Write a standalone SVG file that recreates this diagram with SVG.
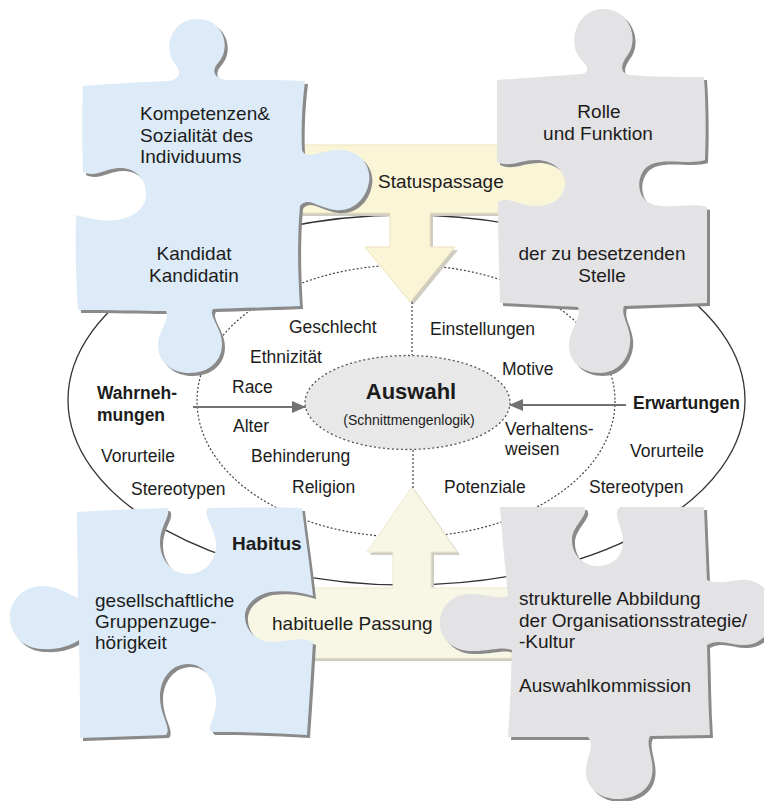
<svg xmlns="http://www.w3.org/2000/svg" xmlns:xlink="http://www.w3.org/1999/xlink" width="764" height="801" viewBox="0 0 764 801">
<style>
text{font-family:"Liberation Sans",Arial,sans-serif;fill:#1c1c1c}
.big{font-size:19px}
.mid{font-size:17.5px}
.b{font-weight:bold}
.blue{fill:#dcebf7}
.gray{fill:#e3e2e4}
.shadow{fill:#8a8a8a}
.yshadow{fill:#cfcdc2}
.line{fill:none;stroke:#333;stroke-width:1.3}
.dot{fill:none;stroke:#444;stroke-width:1.2;stroke-dasharray:2 2}
.arr{stroke:#727272;stroke-width:2.2;fill:none}
</style>
<defs>
<marker id="ah" viewBox="0 0 14 12" refX="14" refY="6" markerWidth="14" markerHeight="12" markerUnits="userSpaceOnUse" orient="auto">
<path d="M0 0 L14 6 L0 12 Z" fill="#727272"/>
</marker>
<path id="p-tl" d="M83 86 C110 84,140 82,168 81 C180 80,182 72,175 64 C163 50,170 20,196 19 C224 18,232 48,218 63 C211 71,214 79,228 80 C255 80,280 80,305 81 C302 105,301 130,302 150 C306 160,318 152,335 150 C358 148,372 165,369 182 C366 200,352 212,335 210 C318 208,308 196,300 206 C297 240,298 275,300 306 C275 307,245 308,213 309 C208 316,222 328,222 344 C222 362,208 373,190 373 C170 373,157 360,158 344 C159 330,170 320,166 311 C140 311,110 310,78 310 C76 280,75 245,76 215 C92 220,108 222,122 219 C138 215,147 205,146 192 C145 178,135 168,120 168 C106 168,96 178,83 172 C82 140,82 110,83 86 Z"/>
<path id="p-tr" d="M497 80 C525 78,555 76,582 74 C590 72,588 66,580 58 C568 45,575 10,602 9 C630 8,640 40,627 56 C620 66,620 73,630 75 C655 77,680 77,704 77 C706 105,706 135,705 160 C690 165,668 158,652 164 C636 170,634 198,652 204 C668 210,690 202,707 207 C707 240,707 272,707 303 C680 304,652 305,624 306 C620 316,632 328,630 344 C628 362,615 373,600 373 C582 373,568 362,569 344 C570 328,582 318,578 307 C555 306,528 304,500 303 C499 270,498 235,498 202 C510 196,520 206,536 206 C556 206,566 194,565 182 C564 170,552 160,536 160 C520 160,510 168,497 162 C497 135,497 108,497 80 Z"/>
<path id="p-bl" d="M77 512 C105 510,135 509,167 508 C172 515,160 525,160 542 C160 560,172 574,188 574 C205 574,217 560,216 543 C215 527,202 515,208 508 C240 508,270 507,302 508 C305 535,310 565,313 596 C300 592,286 590,270 592 C252 596,244 608,245 618 C246 632,258 642,272 642 C288 642,300 636,313 642 C311 675,309 705,307 735 C275 733,245 732,212 732 C205 728,217 718,216 700 C215 680,204 664,188 664 C172 664,160 678,160 697 C160 716,172 728,166 735 C138 736,110 737,80 738 C80 710,80 680,79 640 C70 646,58 650,42 649 C22 648,10 634,10 617 C10 600,24 586,42 586 C58 586,68 594,78 598 C78 570,77 540,77 512 Z"/>
<path id="p-br" d="M500 507 C528 507,556 507,584 507 C590 515,572 525,572 540 C572 556,584 566,598 566 C614 566,624 554,623 540 C622 525,612 515,620 507 C648 507,676 507,704 507 C705 532,706 556,707 580 C720 586,735 578,748 580 C765 583,775 598,774 614 C773 632,760 645,745 645 C730 645,718 638,707 645 C708 675,708 705,710 735 C690 735,670 736,650 736 C645 745,655 760,652 775 C650 790,635 799,618 799 C598 799,585 786,586 770 C587 755,595 745,588 737 C562 737,535 737,508 737 C510 710,511 680,512 650 C500 646,488 652,470 651 C450 650,439 636,440 621 C441 606,453 594,470 594 C488 594,498 600,508 596 C505 565,502 535,500 507 Z"/>
<path id="y-top" d="M295 145 L570 145 L570 213 L430 213 L430 247 L455 247 L410 302 L365 247 L390 247 L390 213 L295 213 Z"/>
<path id="y-bot" d="M240 588 L393 588 L393 552 L367 552 L412 487 L457 552 L431 552 L431 588 L512 588 L512 658 L240 658 Z"/>
</defs>
<rect width="764" height="801" fill="#ffffff"/>

<g id="rings">
<ellipse class="line" cx="406.5" cy="400" rx="338.5" ry="185"/>
<ellipse class="dot" cx="406" cy="401" rx="209" ry="136"/>
</g>

<g id="statuspassage">
<use xlink:href="#y-top" class="yshadow" transform="translate(3,3)"/>
<use xlink:href="#y-top" fill="#fbf5d7" stroke="#ebe2bd" stroke-width="1"/>
<text class="big" x="378" y="188">Statuspassage</text>
</g>

<g id="habituelle-passung">
<use xlink:href="#y-bot" class="yshadow" transform="translate(3,3)"/>
<use xlink:href="#y-bot" fill="#f8f6e5" stroke="#ebe8d2" stroke-width="1"/>
<text class="big" x="272" y="630">habituelle Passung</text>
</g>

<g id="connectors">
<line class="dot" x1="412" y1="302" x2="412" y2="355"/>
<line class="dot" x1="413" y1="450" x2="413" y2="488"/>
<line class="arr" x1="193" y1="407" x2="306" y2="407" marker-end="url(#ah)"/>
<line class="arr" x1="626" y1="405" x2="509" y2="405" marker-end="url(#ah)"/>
</g>

<g id="auswahl">
<ellipse cx="407.5" cy="402.5" rx="102.5" ry="47" fill="#e8e8e8" stroke="#555" stroke-width="1.3" stroke-dasharray="2 2.5"/>
<text x="411" y="399" text-anchor="middle" class="b" style="font-size:22px">Auswahl</text>
<text x="409" y="425" text-anchor="middle" style="font-size:14px">(Schnittmengenlogik)</text>
</g>

<g id="labels">
<text class="mid" x="289" y="333">Geschlecht</text>
<text class="mid" x="250" y="363">Ethnizität</text>
<text class="mid" x="232" y="393">Race</text>
<text class="mid" x="233" y="432">Alter</text>
<text class="mid" x="251" y="462">Behinderung</text>
<text class="mid" x="292" y="493">Religion</text>
<text class="mid" x="101" y="462">Vorurteile</text>
<text class="mid" x="131" y="495">Stereotypen</text>
<text class="mid b" x="97" y="399">Wahrneh-</text>
<text class="mid b" x="97" y="421">mungen</text>
<text class="mid" x="430" y="335">Einstellungen</text>
<text class="mid" x="502" y="375">Motive</text>
<text class="mid" x="505" y="435">Verhaltens-</text>
<text class="mid" x="505" y="455">weisen</text>
<text class="mid" x="444" y="493">Potenziale</text>
<text class="mid" x="630" y="457">Vorurteile</text>
<text class="mid" x="589" y="493">Stereotypen</text>
<text class="mid b" x="740" y="409" text-anchor="end">Erwartungen</text>
</g>

<g id="piece-kandidat">
<use xlink:href="#p-tl" class="shadow" transform="translate(3,3)"/>
<use xlink:href="#p-tl" class="blue"/>
<text class="big" x="140" y="120">Kompetenzen&amp;</text>
<text class="big" x="140" y="142">Sozialität des</text>
<text class="big" x="140" y="163">Individuums</text>
<text class="big" x="194" y="260" text-anchor="middle">Kandidat</text>
<text class="big" x="194" y="282" text-anchor="middle">Kandidatin</text>
</g>

<g id="piece-rolle">
<use xlink:href="#p-tr" class="shadow" transform="translate(3,3)"/>
<use xlink:href="#p-tr" class="gray"/>
<text class="big" x="599" y="118" text-anchor="middle">Rolle</text>
<text class="big" x="598" y="140" text-anchor="middle">und Funktion</text>
<text class="big" x="602" y="260" text-anchor="middle">der zu besetzenden</text>
<text class="big" x="602" y="282" text-anchor="middle">Stelle</text>
</g>

<g id="piece-habitus">
<use xlink:href="#p-bl" class="shadow" transform="translate(3,3)"/>
<use xlink:href="#p-bl" class="blue"/>
<text class="big b" x="232" y="550">Habitus</text>
<text class="big" x="95" y="607">gesellschaftliche</text>
<text class="big" x="95" y="628">Gruppenzuge-</text>
<text class="big" x="95" y="649">hörigkeit</text>
</g>

<g id="piece-organisation">
<use xlink:href="#p-br" class="shadow" transform="translate(3,3)"/>
<use xlink:href="#p-br" class="gray"/>
<text class="big" x="519" y="605">strukturelle Abbildung</text>
<text class="big" x="519" y="627">der Organisationsstrategie/</text>
<text class="big" x="519" y="648">-Kultur</text>
<text class="big" x="519" y="692">Auswahlkommission</text>
</g>
</svg>
